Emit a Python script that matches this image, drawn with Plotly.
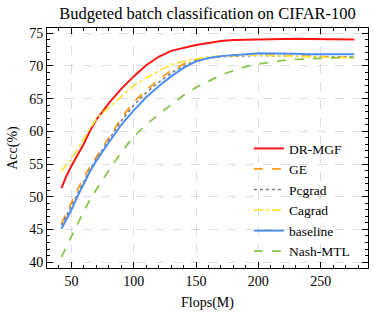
import plotly.graph_objects as go

flops = [42, 46, 50, 55, 60, 65, 70, 75, 80, 90, 100, 110, 120, 130, 140, 150,
         160, 170, 180, 190, 200, 210, 220, 230, 240, 250, 260, 270, 277]

dr_mgf = [51.3, 53.2, 54.7, 56.3, 58.1, 60.1, 61.8, 63.0, 64.3, 66.5, 68.4, 70.1, 71.4, 72.3, 72.8, 73.2,
          73.5, 73.8, 73.95, 74.0, 74.05, 74.1, 74.15, 74.15, 74.1, 74.1, 74.05, 74.05, 74.05]
ge = [45.9, 47.6, 49.1, 51.1, 53.0, 54.6, 56.0, 57.6, 59.0, 62.0, 64.5, 66.3, 67.9, 69.3, 70.3, 71.0,
      71.3, 71.5, 71.6, 71.7, 71.8, 71.7, 71.6, 71.5, 71.45, 71.4, 71.35, 71.3, 71.3]
pcgrad = [45.6, 47.1, 48.6, 50.6, 52.5, 54.2, 55.7, 57.3, 58.7, 61.6, 64.0, 65.9, 67.5, 68.9, 70.0, 70.8,
          71.2, 71.4, 71.5, 71.55, 71.6, 71.55, 71.5, 71.45, 71.4, 71.4, 71.35, 71.35, 71.35]
cagrad = [53.9, 54.9, 55.7, 57.2, 58.9, 60.5, 61.9, 62.8, 63.6, 65.3, 67.0, 68.2, 69.2, 70.2, 70.7, 71.1,
          71.4, 71.5, 71.6, 71.65, 71.65, 71.6, 71.55, 71.5, 71.4, 71.35, 71.3, 71.25, 71.2]
baseline = [45.1, 46.5, 48.0, 50.1, 52.1, 53.9, 55.5, 57.0, 58.3, 61.0, 63.2, 65.2, 66.9, 68.4, 69.7, 70.7,
            71.2, 71.5, 71.7, 71.8, 71.95, 71.95, 71.9, 71.85, 71.8, 71.8, 71.8, 71.8, 71.8]
nash_mtl = [40.8, 42.4, 43.9, 45.9, 47.8, 49.6, 51.2, 52.6, 54.0, 56.8, 59.2, 61.0, 62.6, 64.1, 65.5, 66.7,
            67.7, 68.6, 69.3, 69.9, 70.3, 70.6, 70.85, 71.0, 71.1, 71.2, 71.25, 71.3, 71.3]

x_ticks = [50, 100, 150, 200, 250]
y_ticks = [40, 45, 50, 55, 60, 65, 70, 75]

series = [
    ("DR-MGF", dr_mgf, "#ff1414", "solid", 2),
    ("GE", ge, "#ff9a1a", "dash", 1.8),
    ("Pcgrad", pcgrad, "#7a7a7a", "dot", 1.6),
    ("Cagrad", cagrad, "#ffe53b", "dashdot", 1.8),
    ("baseline", baseline, "#4d8ef5", "solid", 2),
    ("Nash-MTL", nash_mtl, "#8cc34f", "dash", 1.8),
]

FONT = "Liberation Serif, Times New Roman, serif"

fig = go.Figure()
for name, vals, color, dash, w in series:
    fig.add_trace(go.Scatter(x=flops, y=vals, mode="lines", name=name,
                             line=dict(color=color, dash=dash, width=w)))

axis_common = dict(
    showline=True, linecolor="black", linewidth=1, mirror="ticks",
    ticks="inside", ticklen=6, tickcolor="black", tickwidth=1,
    showgrid=True, gridcolor="rgba(0,0,0,0.13)", griddash="dash", gridwidth=1,
    zeroline=False, automargin=False,
    tickfont=dict(family=FONT, size=14, color="black"),
)

fig.update_layout(
    width=375, height=314,
    margin=dict(l=47, r=7, t=28, b=46),
    paper_bgcolor="white", plot_bgcolor="white",
    font=dict(family=FONT, size=14, color="black"),
    title=dict(text="Budgeted batch classification on CIFAR-100",
               font=dict(family=FONT, size=16.5, color="black"),
               x=0.5, xref="paper", xanchor="center",
               y=1 - 13 / 314, yref="container", yanchor="middle"),
    xaxis=dict(range=[30.4, 288], tickvals=x_ticks,
               title=dict(text="Flops(M)", font=dict(family=FONT, size=14), standoff=9),
               minor=dict(dtick=10, ticks="inside", ticklen=3, tickcolor="black", showgrid=False),
               **axis_common),
    yaxis=dict(range=[39.1, 75.8], tickvals=y_ticks,
               title=dict(text="Acc(%)", font=dict(family=FONT, size=14), standoff=8),
               minor=dict(dtick=1, ticks="inside", ticklen=3, tickcolor="black", showgrid=False),
               **axis_common),
    legend=dict(x=0.629, xanchor="left", y=0.562, yanchor="top",
                bgcolor="rgba(255,255,255,0)", borderwidth=0,
                font=dict(family=FONT, size=13.5, color="black")),
    showlegend=True,
)

fig.write_html("out.html", config={"displayModeBar": False},
               post_script="document.body.style.margin='0';document.body.style.overflow='hidden';")
